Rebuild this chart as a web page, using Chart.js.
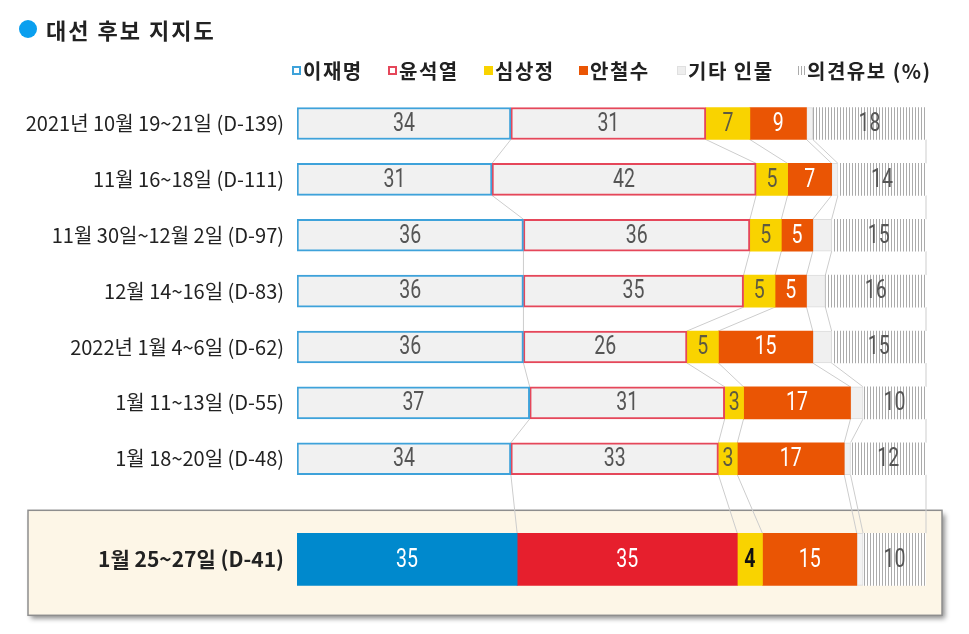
<!DOCTYPE html>
<html><head><meta charset="utf-8">
<script src="https://cdn.jsdelivr.net/npm/chart.js@4.4.1/dist/chart.umd.min.js"></script>
<style>
html,body{margin:0;padding:0;background:#fff;}
#wrap{position:relative;width:969px;height:634px;overflow:hidden;}
canvas{position:absolute;left:0;top:0;}
#title{position:absolute;left:19px;top:17px;height:24px;display:flex;align-items:center;font-family:"Noto Sans CJK KR";font-weight:bold;font-size:22px;letter-spacing:2px;color:#222;}
#title .dot{display:inline-block;width:18px;height:18px;border-radius:50%;background:#0a9fef;margin-right:9px;}
</style></head>
<body><div id="wrap"><canvas id="c" width="969" height="634"></canvas><div id="title"><span class="dot"></span>대선 후보 지지도</div></div>
<script>
// ---- data ----
const rowLabels = ['2021년 10월 19~21일 (D-139)', '11월 16~18일 (D-111)', '11월 30일~12월 2일 (D-97)', '12월 14~16일 (D-83)', '2022년 1월 4~6일 (D-62)', '1월 11~13일 (D-55)', '1월 18~20일 (D-48)', '1월 25~27일 (D-41)'];
const rowPositions = [0, 1, 2, 3, 4, 5, 6, 7.8];
const seriesNames = ['이재명', '윤석열', '심상정', '안철수', '기타 인물', '의견유보 (%)'];
const leeJaemyung = [34, 31, 36, 36, 36, 37, 34, 35];
const yoonSukyeol = [31, 42, 36, 35, 26, 31, 33, 35];
const simSangjung = [7, 5, 5, 5, 5, 3, 3, 4];
const ahnCheolsoo = [9, 7, 5, 5, 15, 17, 17, 15];
const others = [1, 1, 3, 3, 3, 2, 1, 1];
const undecided = [18, 14, 15, 16, 15, 10, 12, 10];

const series = [leeJaemyung, yoonSukyeol, simSangjung, ahnCheolsoo, others, undecided];
const lastRow = rowLabels.length - 1;

// ---- styles ----
const canvas = document.getElementById('c');
const ctx0 = canvas.getContext('2d');
const pc = document.createElement('canvas'); pc.width = 3; pc.height = 4;
const pctx = pc.getContext('2d');
pctx.fillStyle = '#ffffff'; pctx.fillRect(0, 0, 3, 4);
pctx.fillStyle = '#ababab'; pctx.fillRect(0, 0, 1, 4);
const hatch = ctx0.createPattern(pc, 'repeat');

const topStyle = [
  {bg: '#f1f1f1', border: '#3ea2da', bw: 2},
  {bg: '#f1f1f1', border: '#e5475a', bw: 2},
  {bg: '#f9d300', border: '#f9d300', bw: 0},
  {bg: '#ea5504', border: '#ea5504', bw: 0},
  {bg: '#f0f0f0', border: '#dcdcdc', bw: 1},
  {bg: hatch, border: '#ffffff', bw: 0}
];
const bottomStyle = [
  {bg: '#0089cd', border: '#0089cd', bw: 0},
  {bg: '#e61f2d', border: '#e61f2d', bw: 0},
  {bg: '#f9d300', border: '#f9d300', bw: 0},
  {bg: '#ea5504', border: '#ea5504', bw: 0},
  {bg: '#f3f3f3', border: '#dcdcdc', bw: 1},
  {bg: hatch, border: '#ffffff', bw: 0}
];
const TOP_T = 32, BOT_T = 52;
const legendX = [292, 388, 484, 579, 677, 796];

function seg(k, i) {
  let s = 0;
  for (let j = 0; j < k; j++) s += series[j][i];
  return [s, s + series[k][i]];
}

const datasets = [];
series.forEach((vals, k) => {
  const topData = [];
  for (let i = 0; i < lastRow; i++) topData.push({y: rowPositions[i], x: seg(k, i)});
  datasets.push({
    label: seriesNames[k], data: topData, _k: k, _bottom: false,
    backgroundColor: topStyle[k].bg, borderColor: topStyle[k].border, borderWidth: topStyle[k].bw,
    borderSkipped: false, barThickness: TOP_T, grouped: false
  });
});
series.forEach((vals, k) => {
  datasets.push({
    label: seriesNames[k] + ' (' + rowLabels[lastRow] + ')', data: [{y: rowPositions[lastRow], x: seg(k, lastRow)}], _k: k, _bottom: true,
    backgroundColor: bottomStyle[k].bg, borderColor: bottomStyle[k].border, borderWidth: bottomStyle[k].bw,
    borderSkipped: false, barThickness: BOT_T, grouped: false
  });
});

// ---- plugins ----
const highlightBox = {
  id: 'highlightBox',
  beforeDraw(chart) {
    const {ctx, chartArea, scales: {y}} = chart;
    const cy = y.getPixelForValue(rowPositions[lastRow]);
    const top = cy - BOT_T / 2 - 23, bottom = cy + BOT_T / 2 + 30;
    const left = 28, right = chartArea.right + 16;
    ctx.save();
    ctx.shadowColor = 'rgba(0,0,0,0.45)';
    ctx.shadowBlur = 5; ctx.shadowOffsetX = 3; ctx.shadowOffsetY = 4;
    ctx.fillStyle = '#fdf6e7';
    ctx.fillRect(left, top, right - left, bottom - top);
    ctx.restore();
    ctx.save();
    ctx.strokeStyle = '#8e8e8e'; ctx.lineWidth = 1.5;
    ctx.strokeRect(left, top, right - left, bottom - top);
    ctx.restore();
  }
};

const connectors = {
  id: 'connectors',
  beforeDatasetsDraw(chart) {
    const {ctx, scales: {x, y}} = chart;
    ctx.save();
    ctx.strokeStyle = '#cdcdcd'; ctx.lineWidth = 1;
    for (let r = 0; r < lastRow; r++) {
      const t1 = TOP_T, t2 = (r + 1 === lastRow) ? BOT_T : TOP_T;
      const y1 = y.getPixelForValue(rowPositions[r]) + t1 / 2;
      const y2 = y.getPixelForValue(rowPositions[r + 1]) - t2 / 2;
      for (let k = 0; k < series.length; k++) {
        const x1 = x.getPixelForValue(seg(k, r)[1]);
        const x2 = x.getPixelForValue(seg(k, r + 1)[1]);
        ctx.beginPath(); ctx.moveTo(x1, y1); ctx.lineTo(x2, y2); ctx.stroke();
      }
    }
    ctx.restore();
  }
};

const valueLabels = {
  id: 'valueLabels',
  afterDatasetsDraw(chart) {
    const {ctx} = chart;
    ctx.save();
    ctx.textAlign = 'center'; ctx.textBaseline = 'middle';
    chart.data.datasets.forEach((ds, di) => {
      const k = ds._k;
      if (k === 4) return;
      const meta = chart.getDatasetMeta(di);
      meta.data.forEach((el, j) => {
        const row = ds._bottom ? lastRow : j;
        const v = series[k][row];
        const p = el.getProps(['x', 'base', 'y'], true);
        const cx = (p.x + p.base) / 2;
        let color = '#555555', weight = 'normal';
        if (ds._bottom) {
          if (k === 0 || k === 1 || k === 3) color = '#ffffff';
          if (k === 2) { color = '#111111'; weight = 'bold'; }
        } else {
          if (k === 3) color = '#ffffff';
          if (k === 2) color = '#5e5a40';
        }
        ctx.save();
        ctx.translate(cx, p.y + 1);
        ctx.scale(0.78, 1);
        ctx.fillStyle = color;
        ctx.font = weight + ' 25px Roboto, sans-serif';
        ctx.fillText(String(v), 0, 0);
        ctx.restore();
      });
    });
    ctx.restore();
  }
};

const customLegend = {
  id: 'customLegend',
  afterDraw(chart) {
    const {ctx} = chart;
    ctx.save();
    ctx.font = 'bold 20px "Noto Sans CJK KR"';
    ctx.textBaseline = 'middle'; ctx.textAlign = 'left';
    const cy = 70;
    seriesNames.forEach((name, k) => {
      const x = legendX[k];
      const s = topStyle[k];
      if (k === 0 || k === 1) {
        ctx.fillStyle = '#ffffff'; ctx.fillRect(x, cy - 4, 8, 8);
        ctx.strokeStyle = s.border; ctx.lineWidth = 2; ctx.strokeRect(x + 1, cy - 3, 7, 7);
      } else if (k === 4) {
        ctx.fillStyle = '#eeeeee'; ctx.fillRect(x, cy - 4, 9, 9);
        ctx.strokeStyle = '#e0e0e0'; ctx.lineWidth = 1; ctx.strokeRect(x + 0.5, cy - 3.5, 8, 8);
      } else if (k === 5) {
        ctx.fillStyle = hatch; ctx.fillRect(x, cy - 4, 9, 9);
      } else {
        ctx.fillStyle = s.bg; ctx.fillRect(x, cy - 4, 9, 9);
      }
      ctx.fillStyle = '#222222';
      const tx = x + 11;
      // spread characters slightly to match the reference's wide setting
      let cx = tx;
      for (const ch of name) {
        ctx.fillText(ch, cx, cy + 1);
        cx += ctx.measureText(ch).width + 1.5;
      }
    });
    ctx.restore();
  }
};

new Chart(canvas, {
  type: 'bar',
  data: {datasets},
  options: {
    indexAxis: 'y',
    responsive: false,
    animation: false,
    devicePixelRatio: 1,
    layout: {padding: {top: 90, bottom: 30, left: 0, right: 43}},
    plugins: {legend: {display: false}, tooltip: {enabled: false}, title: {display: false}},
    scales: {
      x: {type: 'linear', min: 0, max: 100, display: false},
      y: {
        type: 'linear', reverse: true, min: -0.6, max: 8.6, offset: false,
        grid: {display: false, drawTicks: false, offset: false}, border: {display: false},
        afterBuildTicks: (s) => { s.ticks = rowPositions.map(v => ({value: v})); },
        afterFit: (s) => { s.width = 297; },
        ticks: {
          autoSkip: false, padding: 13, color: '#222222',
          font: (c) => ({family: '"Noto Sans CJK KR"', size: c.index === lastRow ? 21 : 20, weight: c.index === lastRow ? 'bold' : 'normal'}),
          callback: (v, i) => rowLabels[i]
        }
      }
    }
  },
  plugins: [highlightBox, connectors, valueLabels, customLegend]
});
</script>
</body></html>
